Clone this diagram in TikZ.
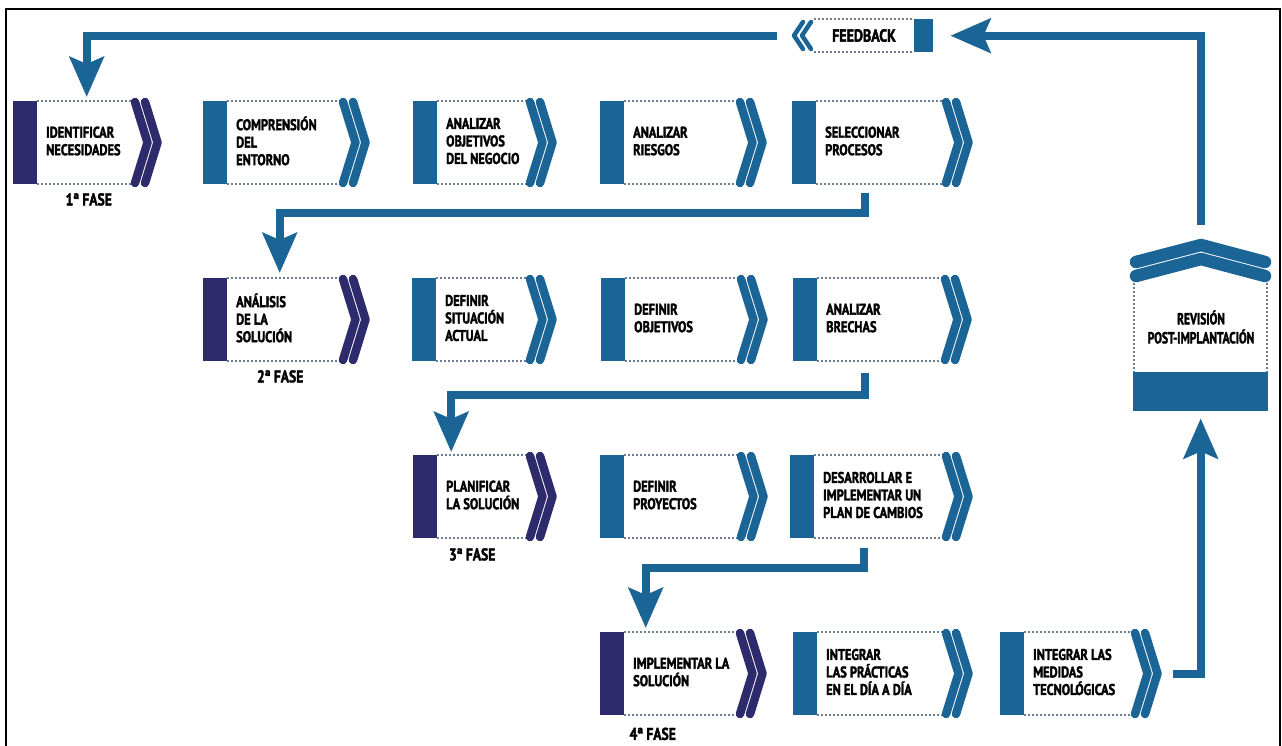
\documentclass[tikz,border=0pt]{standalone}
\usepackage{fontspec}
\setmainfont{PT Sans}[FakeStretch=0.8, BoldFeatures={FakeBold=2}]
\usetikzlibrary{arrows.meta,calc}
\definecolor{cblue}{RGB}{26,100,150}
\definecolor{cnavy}{RGB}{46,43,108}
\definecolor{cdot}{RGB}{110,125,150}
\tikzset{
  conn/.style={draw=cblue, line width=8pt, line join=miter, -{Stealth[length=40pt,width=34pt,inset=7pt]}},
  dotline/.style={draw=cdot, line width=1.3pt, dash pattern=on 1.6pt off 2.4pt},
  chev/.style={draw=#1, line width=8.5pt, line cap=round, line join=round},
  boxtext/.style={anchor=west, align=left, inner sep=0pt, font=\bfseries\fontsize{15.5}{17.5}\selectfont},
  fase/.style={inner sep=0pt, font=\bfseries\fontsize{17}{18}\selectfont},
  holder/.style={anchor=north west, inner sep=0pt}
}
\newcommand{\stepbox}[6]{%
  \node[holder, minimum width={(#3+28-#2)*1pt}, minimum height=83pt] (#1) at (#2,#4) {};
  \fill[#5] (#2,#4) rectangle (#2+24,#4+83);
  \draw[dotline] (#2+24,#4) -- (#3,#4) (#2+24,#4+83) -- (#3,#4+83);
  \draw[chev=#5] (#3+3,#4+1) -- (#3+15.5,#4+41.5) -- (#3+3,#4+82);
  \draw[chev=#5] (#3+13,#4+1) -- (#3+25.5,#4+41.5) -- (#3+13,#4+82);
  \node[boxtext] at (#2+33,#4+40) {#6};
}
\begin{document}
\begin{tikzpicture}[x=1pt,y=-1pt]
\useasboundingbox (0,0) rectangle (1282,745);
\fill[white] (0,0) rectangle (1282,745);
\draw[line width=2.5pt] (6,746) -- (6,9) -- (1280,9) -- (1280,746);

% row 1
\stepbox{b11}{13}{132}{101}{cnavy}{IDENTIFICAR\\NECESIDADES}
\stepbox{b12}{203}{340}{101}{cblue}{COMPRENSIÓN\\DEL\\ENTORNO}
\stepbox{b13}{413}{527}{101}{cblue}{ANALIZAR\\OBJETIVOS\\DEL NEGOCIO}
\stepbox{b14}{600}{737}{101}{cblue}{ANALIZAR\\RIESGOS}
\stepbox{b15}{792}{943}{101}{cblue}{SELECCIONAR\\PROCESOS}
% row 2
\stepbox{b21}{203}{340}{278}{cnavy}{ANÁLISIS\\DE LA\\SOLUCIÓN}
\stepbox{b22}{412}{527}{278}{cblue}{DEFINIR\\SITUACIÓN\\ACTUAL}
\stepbox{b23}{601}{738}{278}{cblue}{DEFINIR\\OBJETIVOS}
\stepbox{b24}{793}{942}{278}{cblue}{ANALIZAR\\BRECHAS}
% row 3
\stepbox{b31}{413}{527}{455}{cnavy}{PLANIFICAR\\LA SOLUCIÓN}
\stepbox{b32}{600}{738}{455}{cblue}{DEFINIR\\PROYECTOS}
\stepbox{b33}{790}{943}{455}{cblue}{DESARROLLAR E\\IMPLEMENTAR UN\\PLAN DE CAMBIOS}
% row 4
\stepbox{b41}{600}{737}{632}{cnavy}{IMPLEMENTAR LA\\SOLUCIÓN}
\stepbox{b42}{793}{943}{632}{cblue}{INTEGRAR\\LAS PRÁCTICAS\\EN EL DÍA A DÍA}
\stepbox{b43}{1000}{1132}{632}{cblue}{INTEGRAR LAS\\MEDIDAS\\TECNOLÓGICAS}

% phase labels
\node[fase] (f1) at ([xshift=2pt,yshift=-15pt]b11.south) {1ª FASE};
\node[fase] (f2) at ([xshift=-5.5pt,yshift=-15pt]b21.south) {2ª FASE};
\node[fase] (f3) at ([xshift=-12pt,yshift=-16pt]b31.south) {3ª FASE};
\node[fase] (f4) at ([xshift=-30pt,yshift=-18.5pt]b41.south) {4ª FASE};

% feedback box
\node[holder, minimum width=141pt, minimum height=33pt] (fb) at (792,19) {};
\fill[cblue] (914,19) rectangle (933,52);
\draw[dotline] (814,19) -- (914,19) (814,52) -- (914,52);
\draw[draw=cblue, line width=4.5pt, line cap=round, line join=round] (803,22) -- (794,35.5) -- (803,49);
\draw[draw=cblue, line width=4.5pt, line cap=round, line join=round] (811,22) -- (802,35.5) -- (811,49);
\node[inner sep=0pt, font=\bfseries\fontsize{17.5}{18}\selectfont] (fbt) at (864,35.5) {FEEDBACK};

% revision box
\node[holder, minimum width=135pt, minimum height=173pt] (rev) at (1133,238) {};
\draw[draw=cblue, line width=12.5pt, line cap=round, line join=round] (1136,262) -- (1201,245) -- (1265,262);
\draw[draw=cblue, line width=12.5pt, line cap=round, line join=round] (1136,276) -- (1201,259) -- (1265,276);
\draw[dotline] (1134,283) -- (1134,372) (1267,283) -- (1267,372);
\fill[cblue] (1133,372) rectangle (1268,411);
\node[inner sep=0pt, align=center, font=\bfseries\fontsize{16}{19}\selectfont\addfontfeature{FakeStretch=0.72}] (revt) at (1201,327) {REVISIÓN\\POST-IMPLANTACIÓN};

% connectors
\draw[conn] ([xshift=-15pt]fb.west) -| ([yshift=4pt]b11.north);
\draw[conn] ([xshift=-17pt,yshift=-9pt]b15.south) -- ++(0,20) -| ([xshift=-6pt,yshift=5pt]b21.north);
\draw[conn] ([xshift=-17pt,yshift=-12pt]b24.south) -- ++(0,22) -| ([xshift=-33pt,yshift=3pt]b31.north);
\draw[conn] ([xshift=-17pt,yshift=-10pt]b33.south) -- ++(0,20) -| ([xshift=-37pt,yshift=4pt]b41.north);
\draw[conn] ([xshift=13pt]b43.east) -| ([yshift=-7pt]rev.south);
\draw[conn] ([yshift=13pt]rev.north) |- ([xshift=17pt]fb.east);
\end{tikzpicture}
\end{document}
